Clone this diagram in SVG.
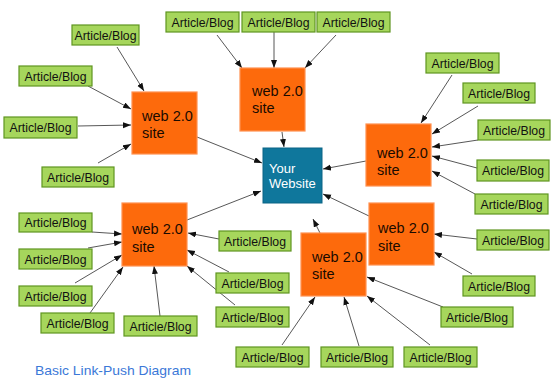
<svg xmlns="http://www.w3.org/2000/svg" width="560" height="392" viewBox="0 0 560 392">
<style>
.g rect{fill:#a6d65c;stroke:#5f9520;stroke-width:1.2}
.g text{font-family:"Liberation Sans",Arial,sans-serif;font-size:12px;fill:#111;text-anchor:middle}
.w rect{fill:#fd6a0c;stroke:#ff9150;stroke-width:1.2}
.w text{font-family:"Liberation Sans",Arial,sans-serif;font-size:14.5px;fill:#1a0a00}
.y rect{fill:#0f779c;stroke:#0b6585;stroke-width:1}
.y text{font-family:"Liberation Sans",Arial,sans-serif;font-size:13px;fill:#fff}
#connectors line{stroke:#444;stroke-width:0.9;marker-end:url(#arr)}
.cap{font-family:"Liberation Sans",Arial,sans-serif;font-size:13px;fill:#3b78d8}
</style>
<defs>
<marker id="arr" markerUnits="userSpaceOnUse" markerWidth="9" markerHeight="7" refX="8" refY="3" orient="auto">
<path d="M0,0 L8,3 L0,6 z" fill="#111"/>
</marker>
</defs>
<rect width="560" height="392" fill="#fff"/>
<g id="connectors">
<line x1="117" y1="47" x2="144" y2="91"/>
<line x1="88" y1="86" x2="131" y2="109"/>
<line x1="78" y1="126" x2="131" y2="125"/>
<line x1="98" y1="163" x2="131" y2="144"/>
<line x1="197" y1="137" x2="262" y2="163"/>
<line x1="217" y1="35" x2="242" y2="68"/>
<line x1="274" y1="32" x2="274" y2="68"/>
<line x1="336" y1="35" x2="305" y2="68"/>
<line x1="282" y1="132" x2="284" y2="147"/>
<line x1="452" y1="75" x2="421" y2="123"/>
<line x1="478" y1="106" x2="432" y2="134"/>
<line x1="478" y1="140" x2="432" y2="147"/>
<line x1="477" y1="168" x2="432" y2="156"/>
<line x1="475" y1="194" x2="432" y2="171"/>
<line x1="366" y1="161" x2="323" y2="169"/>
<line x1="477" y1="239" x2="434" y2="234"/>
<line x1="472" y1="274" x2="434" y2="252"/>
<line x1="369" y1="216" x2="323" y2="194"/>
<line x1="320" y1="233" x2="313" y2="219"/>
<line x1="443" y1="307" x2="367" y2="277"/>
<line x1="430" y1="345" x2="367" y2="296"/>
<line x1="359" y1="346" x2="344" y2="297"/>
<line x1="282" y1="345" x2="315" y2="297"/>
<line x1="187" y1="220" x2="261" y2="191"/>
<line x1="92" y1="232" x2="122" y2="234"/>
<line x1="88" y1="248" x2="122" y2="242"/>
<line x1="75" y1="283" x2="122" y2="255"/>
<line x1="90" y1="313" x2="123" y2="267"/>
<line x1="160" y1="316" x2="154" y2="266"/>
<line x1="219" y1="239" x2="188" y2="233"/>
<line x1="229" y1="272" x2="187" y2="250"/>
<line x1="235" y1="305" x2="187" y2="266"/>
</g>
<g id="site1" class="w"><rect x="132" y="92" width="65" height="62"/><text x="142" y="121">web 2.0</text><text x="142" y="138">site</text></g>
<g id="site2" class="w"><rect x="240" y="68" width="65" height="63"/><text x="252" y="96">web 2.0</text><text x="252" y="113">site</text></g>
<g id="site3" class="w"><rect x="366" y="124" width="65" height="62"/><text x="377" y="158">web 2.0</text><text x="377" y="175">site</text></g>
<g id="site4" class="w"><rect x="369" y="203" width="65" height="62"/><text x="378" y="233">web 2.0</text><text x="378" y="251">site</text></g>
<g id="site5" class="w"><rect x="301" y="233" width="65" height="63"/><text x="312" y="262">web 2.0</text><text x="312" y="279">site</text></g>
<g id="site6" class="w"><rect x="122" y="203" width="65" height="63"/><text x="132" y="234">web 2.0</text><text x="132" y="252">site</text></g>
<g id="website" class="y"><rect x="263" y="148" width="59" height="55"/><text x="269" y="173">Your</text><text x="269" y="188">Website</text></g>
<g id="a1" class="g"><rect x="72" y="25" width="67" height="20"/><text x="105.5" y="39.5" textLength="62" lengthAdjust="spacingAndGlyphs">Article/Blog</text></g>
<g id="a2" class="g"><rect x="19" y="66" width="73" height="20"/><text x="55.5" y="80.5" textLength="62" lengthAdjust="spacingAndGlyphs">Article/Blog</text></g>
<g id="a3" class="g"><rect x="4" y="117" width="73" height="21"/><text x="40.5" y="132" textLength="62" lengthAdjust="spacingAndGlyphs">Article/Blog</text></g>
<g id="a4" class="g"><rect x="42" y="167" width="72" height="20"/><text x="78" y="181.5" textLength="62" lengthAdjust="spacingAndGlyphs">Article/Blog</text></g>
<g id="t1" class="g"><rect x="166" y="12" width="73" height="20"/><text x="202.5" y="26.5" textLength="62" lengthAdjust="spacingAndGlyphs">Article/Blog</text></g>
<g id="t2" class="g"><rect x="242" y="12" width="73" height="20"/><text x="278.5" y="26.5" textLength="62" lengthAdjust="spacingAndGlyphs">Article/Blog</text></g>
<g id="t3" class="g"><rect x="317" y="12" width="73" height="20"/><text x="353.5" y="26.5" textLength="62" lengthAdjust="spacingAndGlyphs">Article/Blog</text></g>
<g id="r1" class="g"><rect x="426" y="53" width="73" height="20"/><text x="462.5" y="67.5" textLength="62" lengthAdjust="spacingAndGlyphs">Article/Blog</text></g>
<g id="r2" class="g"><rect x="463" y="83" width="72" height="20"/><text x="499" y="97.5" textLength="62" lengthAdjust="spacingAndGlyphs">Article/Blog</text></g>
<g id="r3" class="g"><rect x="478" y="120" width="72" height="20"/><text x="514" y="134.5" textLength="62" lengthAdjust="spacingAndGlyphs">Article/Blog</text></g>
<g id="r4" class="g"><rect x="477" y="160" width="72" height="21"/><text x="513" y="175" textLength="62" lengthAdjust="spacingAndGlyphs">Article/Blog</text></g>
<g id="r5" class="g"><rect x="475" y="194" width="73" height="20"/><text x="511.5" y="208.5" textLength="62" lengthAdjust="spacingAndGlyphs">Article/Blog</text></g>
<g id="r7" class="g"><rect x="477" y="230" width="72" height="20"/><text x="513" y="244.5" textLength="62" lengthAdjust="spacingAndGlyphs">Article/Blog</text></g>
<g id="r8" class="g"><rect x="463" y="276" width="72" height="20"/><text x="499" y="290.5" textLength="62" lengthAdjust="spacingAndGlyphs">Article/Blog</text></g>
<g id="b1" class="g"><rect x="441" y="307" width="72" height="20"/><text x="477" y="321.5" textLength="62" lengthAdjust="spacingAndGlyphs">Article/Blog</text></g>
<g id="b3" class="g"><rect x="404" y="347" width="73" height="20"/><text x="440.5" y="361.5" textLength="62" lengthAdjust="spacingAndGlyphs">Article/Blog</text></g>
<g id="b2" class="g"><rect x="321" y="347" width="72" height="20"/><text x="357" y="361.5" textLength="62" lengthAdjust="spacingAndGlyphs">Article/Blog</text></g>
<g id="b4" class="g"><rect x="236" y="347" width="73" height="20"/><text x="272.5" y="361.5" textLength="62" lengthAdjust="spacingAndGlyphs">Article/Blog</text></g>
<g id="l1" class="g"><rect x="19" y="213" width="73" height="19"/><text x="55.5" y="227" textLength="62" lengthAdjust="spacingAndGlyphs">Article/Blog</text></g>
<g id="l2" class="g"><rect x="19" y="249" width="73" height="20"/><text x="55.5" y="263.5" textLength="62" lengthAdjust="spacingAndGlyphs">Article/Blog</text></g>
<g id="l3" class="g"><rect x="19" y="286" width="73" height="20"/><text x="55.5" y="300.5" textLength="62" lengthAdjust="spacingAndGlyphs">Article/Blog</text></g>
<g id="l4" class="g"><rect x="41" y="313" width="73" height="20"/><text x="77.5" y="327.5" textLength="62" lengthAdjust="spacingAndGlyphs">Article/Blog</text></g>
<g id="l5" class="g"><rect x="124" y="316" width="73" height="20"/><text x="160.5" y="330.5" textLength="62" lengthAdjust="spacingAndGlyphs">Article/Blog</text></g>
<g id="m1" class="g"><rect x="219" y="231" width="72" height="20"/><text x="255" y="245.5" textLength="62" lengthAdjust="spacingAndGlyphs">Article/Blog</text></g>
<g id="m2" class="g"><rect x="216" y="273" width="73" height="20"/><text x="252.5" y="287.5" textLength="62" lengthAdjust="spacingAndGlyphs">Article/Blog</text></g>
<g id="m3" class="g"><rect x="216" y="307" width="73" height="20"/><text x="252.5" y="321.5" textLength="62" lengthAdjust="spacingAndGlyphs">Article/Blog</text></g>
<text class="cap" x="35" y="375" textLength="156" lengthAdjust="spacingAndGlyphs">Basic Link-Push Diagram</text>
</svg>
